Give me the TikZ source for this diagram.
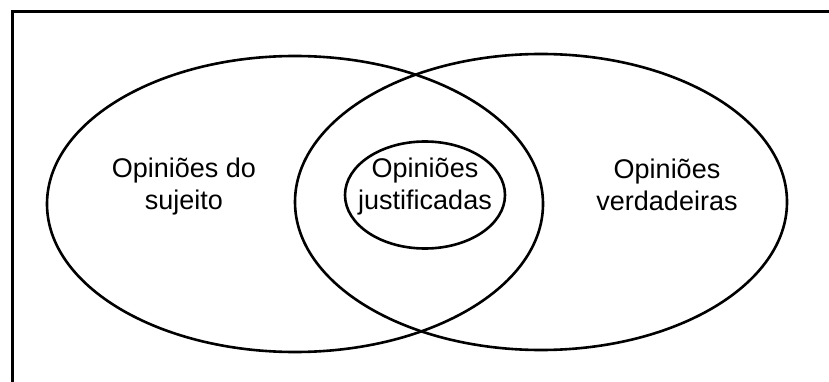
\documentclass[tikz,border=0pt]{standalone}
\usepackage{fontspec}
\setmainfont{Liberation Sans}
\usetikzlibrary{shapes.geometric}
\begin{document}
\begin{tikzpicture}[x=1pt,y=-1pt,
  setline/.style={line width=2.6pt},
  lbl/.style={align=center,font=\fontsize{27}{32}\selectfont,inner sep=0pt}]
\useasboundingbox (0,0) rectangle (829,382);
\coordinate (tr) at (829,12);
\coordinate (tl) at (12,12);
\coordinate (bl) at (12,382);
\draw[line width=3pt] (tr) -- (tl) -- (bl);
\node[setline,draw,ellipse,minimum width=496pt,minimum height=296pt,inner sep=0pt] (subj) at (295,204) {};
\node[setline,draw,ellipse,minimum width=492pt,minimum height=296pt,inner sep=0pt] (verd) at (541,202) {};
\node[setline,draw,ellipse,minimum width=160pt,minimum height=107pt,inner sep=0pt] (just) at (425,195) {};
\node[lbl] (tsubj) at (184,187) {Opiniões do\\sujeito};
\node[lbl] (tverd) at (667,185) {Opiniões\\verdadeiras};
\node[lbl] (tjust) at (425,187) {Opiniões\\justificadas};
\end{tikzpicture}
\end{document}
